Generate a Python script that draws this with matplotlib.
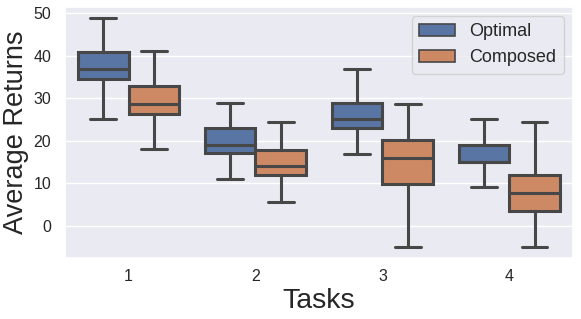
import matplotlib
matplotlib.use("Agg")
import matplotlib.pyplot as plt
from matplotlib.patches import Patch
import seaborn as sns

# box stats: whisker low, q1, median, q3, whisker high
tasks = ["1", "2", "3", "4"]
series = ["Optimal", "Composed"]
optimal_low = [25.1, 11.0, 17.0, 9.1]
optimal_q1 = [34.5, 17.1, 23.0, 15.0]
optimal_med = [37.0, 19.0, 25.2, 15.0]
optimal_q3 = [41.0, 23.0, 28.9, 19.0]
optimal_high = [48.9, 29.0, 37.0, 25.1]
composed_low = [18.1, 5.6, -5.0, -5.0]
composed_q1 = [26.4, 11.9, 9.8, 3.5]
composed_med = [28.6, 14.1, 16.0, 7.8]
composed_q3 = [32.8, 17.9, 20.2, 11.9]
composed_high = [41.2, 24.4, 28.6, 24.4]

sns.set_theme(style="darkgrid")
plt.rcParams["font.family"] = ["Liberation Sans", "DejaVu Sans"]

colors = ["#5975a4", "#cc8963"]
line_col = "#474747"
lw = 2.2


def make_stats(low, q1, med, q3, high):
    return [dict(whislo=a, q1=b, med=c, q3=d, whishi=e, fliers=[])
            for a, b, c, d, e in zip(low, q1, med, q3, high)]


fig = plt.figure(figsize=(5.81, 3.19), dpi=100)
ax = fig.add_axes([0.112, 0.191, 0.874, 0.787])

groups = [
    make_stats(optimal_low, optimal_q1, optimal_med, optimal_q3, optimal_high),
    make_stats(composed_low, composed_q1, composed_med, composed_q3, composed_high),
]
offsets = [-0.2, 0.2]
for stats, off, col in zip(groups, offsets, colors):
    pos = [i + off for i in range(len(tasks))]
    ax.bxp(stats, positions=pos, widths=0.4, patch_artist=True,
           showfliers=False, capwidths=0.2, manage_ticks=False,
           boxprops=dict(facecolor=col, edgecolor=line_col, linewidth=lw),
           medianprops=dict(color=line_col, linewidth=lw),
           whiskerprops=dict(color=line_col, linewidth=lw),
           capprops=dict(color=line_col, linewidth=lw))

ax.set_xlim(-0.5, len(tasks) - 0.5)
ax.set_ylim(-7.6, 51.5)
ax.set_xticks(range(len(tasks)))
ax.set_xticklabels(tasks)
ax.set_yticks([0, 10, 20, 30, 40, 50])
ax.grid(axis="x", visible=False)
ax.tick_params(labelsize=11.5, colors="#262626")
ax.tick_params(axis="x", pad=2)
ax.tick_params(axis="y", pad=4)
ax.set_xlabel("Tasks", fontsize=20.5, color="#262626", labelpad=3)
ax.set_ylabel("Average Returns", fontsize=19.5, color="#262626", labelpad=3)

handles = [Patch(facecolor=c, edgecolor=line_col, linewidth=1.2, label=s)
           for c, s in zip(colors, series)]
ax.legend(handles=handles, loc="upper right", fontsize=13)

fig.savefig("out.png", dpi=100)
